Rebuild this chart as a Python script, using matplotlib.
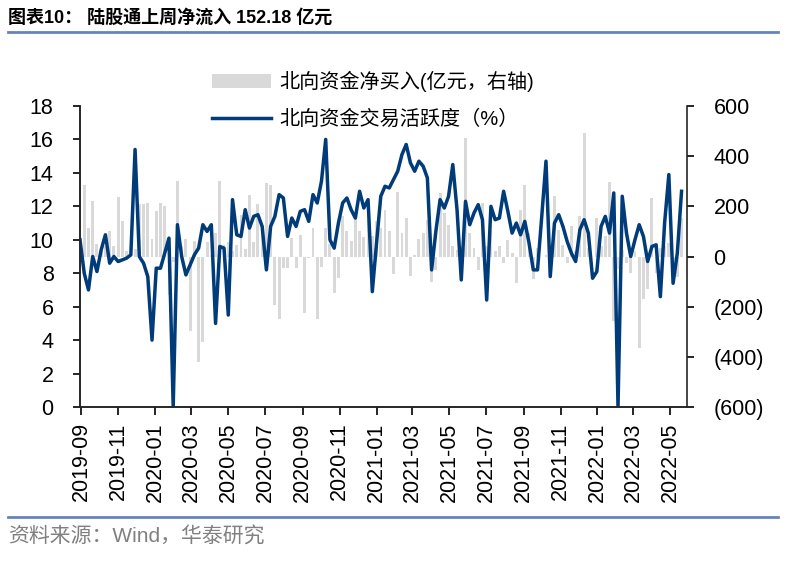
import matplotlib
matplotlib.use("Agg")
import pandas as pd
import matplotlib.pyplot as plt
import matplotlib.dates as mdates
from matplotlib.ticker import FuncFormatter, MultipleLocator
from matplotlib.patches import Patch
from matplotlib.lines import Line2D

plt.rcParams["font.family"] = ["Liberation Sans", "Noto Sans CJK SC"]

# weekly observations, 2019-08-30 .. 2022-05-20
dates = pd.date_range("2019-08-30", periods=143, freq="7D")

# northbound net buy, 100m CNY (right axis)
net_buy = [
    50, 285, 114, 223, 50, 20, 40, 100, 40, 236,
    140, 22, 10, 30, 209, 209, 215, 70, 183, 212,
    201, -155, -20, 302, 40, 70, -297, 60, -420, -340,
    59, 5, 95, 302, 47, 56, 20, 47, 166, 30,
    246, 56, 209, 120, 293, 286, -193, -250, -47, -47,
    73, -47, 86, -226, -7, 113, -250, -40, 113, 50,
    -144, -86, 160, 100, 60, 160, 100, 77, 146, 80,
    140, 113, 186, 100, -69, 259, 93, 153, -77, 7,
    69, 93, 146, -100, -53, 253, 173, 126, 40, 27,
    40, 472, 93, 33, -53, 213, 40, 104, 20, 40,
    -27, 66, 13, -106, 186, 286, 93, -89, 33, 0,
    7, 33, 240, 106, 47, -27, 120, 20, 160, 492,
    33, 0, 153, 40, 80, 299, -259, -50, 27, -27,
    -66, 20, -366, -170, -130, 233, -66, 33, 40, 53,
    -66, -80, 152,
]

# northbound trading activity, % (left axis)
activity = [
    10.0, 8.0, 7.0, 9.0, 8.1, 9.4, 10.3, 8.6, 9.0, 8.7,
    8.8, 8.9, 9.1, 15.4, 9.0, 8.6, 7.8, 4.0, 8.3, 8.3,
    9.2, 10.1, 0.0, 10.9, 9.0, 7.9, 8.5, 9.1, 9.5, 10.9,
    10.5, 10.9, 5.0, 9.6, 9.5, 5.5, 12.4, 10.3, 10.2, 11.8,
    10.7, 11.4, 11.5, 10.8, 8.2, 10.8, 11.4, 12.7, 12.5, 10.2,
    11.3, 10.8, 11.7, 11.8, 11.1, 12.7, 12.2, 13.5, 16.0, 10.0,
    9.5, 11.0, 12.2, 12.5, 11.8, 11.3, 12.9, 11.9, 12.4, 6.9,
    9.8, 12.6, 13.2, 13.1, 13.6, 14.1, 15.1, 15.7, 14.6, 14.1,
    14.7, 14.4, 13.7, 8.2, 10.5, 12.4, 11.9, 12.6, 14.5, 11.8,
    7.6, 12.3, 10.9, 11.6, 12.1, 11.2, 6.4, 12.0, 11.2, 11.3,
    12.9, 11.7, 10.4, 11.0, 10.3, 11.1, 9.8, 8.2, 8.2, 11.4,
    14.7, 7.8, 11.0, 11.5, 10.8, 9.9, 9.2, 8.7, 10.6, 11.2,
    10.4, 7.7, 8.1, 10.8, 11.4, 10.4, 12.8, 0.0, 12.6, 10.4,
    9.0, 10.0, 10.9, 10.2, 8.7, 9.6, 9.7, 6.6, 11.0, 13.9,
    7.4, 9.2, 12.9,
]

bar_label = "北向资金净买入(亿元，右轴)"
line_label = "北向资金交易活跃度（%）"

W, H = 793, 561
fig = plt.figure(figsize=(W / 100, H / 100), dpi=100)
ax = fig.add_axes([80 / W, 1 - 407 / H, (687 - 80) / W, (407 - 106) / H])
ax2 = ax.twinx()

ax2.bar(dates, net_buy, width=4.8, color="#D9D9D9", linewidth=0)
ax.plot(dates, activity, color="#003B7A", lw=2.5, solid_joinstyle="round")
ax.set_zorder(ax2.get_zorder() + 1)
ax.patch.set_visible(False)

ax.set_xlim(pd.Timestamp("2019-08-30"), pd.Timestamp("2022-05-29"))
ax.set_ylim(0, 18)
ax.yaxis.set_major_locator(MultipleLocator(2))
ax2.set_ylim(-600, 600)
ax2.yaxis.set_major_locator(MultipleLocator(200))
ax2.yaxis.set_major_formatter(
    FuncFormatter(lambda v, _: f"({abs(int(v))})" if v < 0 else f"{int(v)}"))

ax.xaxis.set_major_locator(mdates.MonthLocator(bymonth=[1, 3, 5, 7, 9, 11]))
ax.xaxis.set_major_formatter(mdates.DateFormatter("%Y-%m"))
plt.setp(ax.get_xticklabels(), rotation=90)

for a in (ax, ax2):
    a.spines["top"].set_visible(False)
    for s in ("left", "right", "bottom"):
        a.spines[s].set_linewidth(1.2)
        a.spines[s].set_color("#262626")
ax.spines["right"].set_visible(False)
ax.tick_params(axis="y", direction="out", length=5, width=1.2, labelsize=15.5, pad=14)
ax.tick_params(axis="x", direction="out", length=6, width=1.2, labelsize=15.5, pad=5)
ax2.tick_params(axis="y", direction="out", length=5, width=1.2, labelsize=15.5, pad=14)

handles = [Patch(facecolor="#D9D9D9", edgecolor="none"),
           Line2D([], [], color="#003B7A", lw=2.5)]
fig.legend(handles, [bar_label, line_label], loc="upper left",
           bbox_to_anchor=(212 / W, 1 - 71 / H), frameon=False, fontsize=14.5,
           handlelength=2.95, handletextpad=0.4, labelspacing=0.85,
           borderpad=0, borderaxespad=0)

fig.text(8 / W, 1 - 18 / H, "图表10： 陆股通上周净流入 152.18 亿元",
         fontsize=13, fontweight="bold", va="center")
fig.add_artist(Line2D([8 / W, 778 / W], [1 - 32 / H] * 2, color="#6585B8", lw=2))
fig.add_artist(Line2D([8 / W, 778 / W], [1 - 517 / H] * 2, color="#6585B8", lw=2))
fig.text(8 / W, 1 - 536 / H, "资料来源：Wind，华泰研究", color="#808080",
         fontsize=15, va="center")

fig.savefig("out.png", dpi=100)
